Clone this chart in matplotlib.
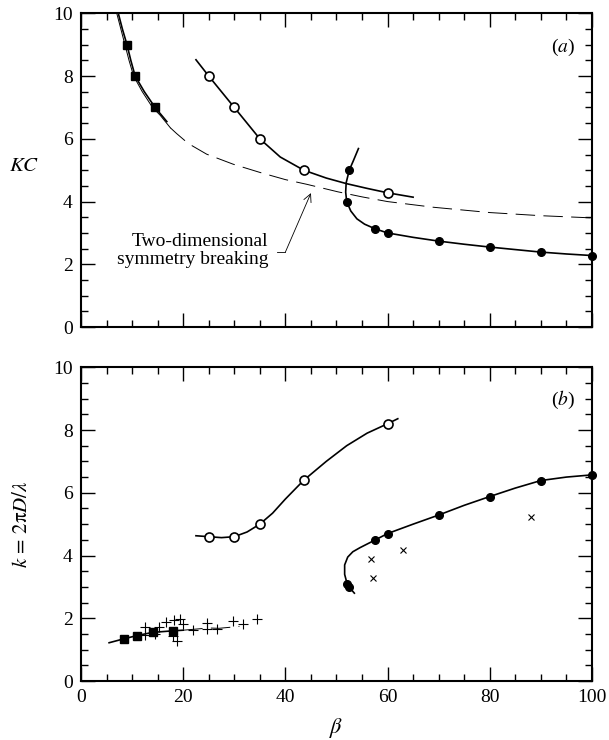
import matplotlib
matplotlib.use('Agg')
import matplotlib.pyplot as plt
from matplotlib.ticker import MultipleLocator

# Data ##################################################################
# Panel (a): KC against beta
# Square markers and the solid curve through them
sq_beta_a = [9.0, 10.6, 14.5]
sq_kc_a = [9.0, 8.0, 7.0]
sq_line_beta_a = [7.3, 8.1, 9.0, 9.75, 10.6, 12.4, 14.5, 16.8]
sq_line_kc_a = [10.0, 9.5, 9.0, 8.5, 8.0, 7.5, 7.0, 6.55]
# Two-dimensional symmetry breaking curve (thin solid part, then dashed)
twod_solid_beta = [7.0, 7.8, 8.6, 9.4, 10.3, 12.0, 14.0, 15.5, 17.5]
twod_solid_kc = [10.0, 9.5, 9.0, 8.5, 8.0, 7.5, 7.0, 6.75, 6.35]
twod_dash_beta = [17.5, 18.7, 21.0, 24.6, 29.8, 35.0, 40.0, 44.2, 50.3,
                  55.0, 60.0, 68.9, 80.0, 90.0, 100.0]
twod_dash_kc = [6.35, 6.17, 5.85, 5.51, 5.19, 4.93, 4.7, 4.55, 4.31,
                4.15, 4.0, 3.82, 3.65, 3.55, 3.48]
# Open circles
oc_beta_a = [25, 30, 35, 43.6, 60]
oc_kc_a = [8.0, 7.0, 6.0, 5.0, 4.28]
oc_line_beta_a = [22.5, 25, 30, 35, 39, 43.6, 48, 52, 56, 60, 65]
oc_line_kc_a = [8.52, 8.0, 7.0, 6.0, 5.42, 5.0, 4.75, 4.57, 4.42, 4.28, 4.14]
# Filled circles
fc_beta_a = [52.5, 52.0, 57.6, 60, 70, 80, 90, 100]
fc_kc_a = [5.0, 4.0, 3.13, 3.0, 2.74, 2.55, 2.39, 2.28]
fc_line_beta_a = [54.3, 53.3, 52.5, 51.9, 51.8, 52.0, 52.8, 54.0, 55.5,
                  57.6, 60, 65, 70, 75, 80, 85, 90, 95, 100]
fc_line_kc_a = [5.69, 5.3, 5.0, 4.6, 4.3, 4.0, 3.7, 3.45, 3.28,
                3.13, 3.0, 2.86, 2.74, 2.64, 2.55, 2.47, 2.39, 2.33, 2.28]

# Panel (b): k = 2 pi D / lambda against beta
sq_beta_b = [8.5, 11.0, 14.0, 18.0]
sq_k_b = [1.35, 1.45, 1.55, 1.58]
sq_line_beta_b = [5.5, 8.5, 11.0, 14.0, 18.0, 20.0]
sq_line_k_b = [1.22, 1.35, 1.45, 1.55, 1.6, 1.62]
twod_dash_beta_b = [20.0, 25.0, 27.0, 31.0]
twod_dash_k_b = [1.62, 1.69, 1.68, 1.74]
plus_beta = [12.5, 12.5, 14.4, 15.3, 16.6, 18.2, 19.4, 19.9, 18.8, 18.0,
             21.9, 24.6, 24.6, 26.6, 29.8, 31.8, 34.5]
plus_k = [1.73, 1.47, 1.5, 1.71, 1.88, 1.95, 1.97, 1.81, 1.27, 1.43,
          1.62, 1.86, 1.67, 1.67, 1.9, 1.82, 1.99]
cross_beta = [56.7, 57.1, 63.1, 88.1]
cross_k = [3.9, 3.29, 4.18, 5.22]
oc_beta_b = [25, 30, 35, 43.6, 60]
oc_k_b = [4.6, 4.6, 5.0, 6.4, 8.2]
oc_line_beta_b = [22.5, 25, 27.5, 30, 32.5, 35, 37.5, 40, 43.6, 48, 52,
                  56, 60, 62]
oc_line_k_b = [4.63, 4.6, 4.57, 4.6, 4.75, 5.0, 5.35, 5.8, 6.4, 7.0, 7.5,
               7.9, 8.2, 8.36]
fc_beta_b = [52.0, 52.4, 57.5, 60, 70, 80, 90, 100]
fc_k_b = [3.1, 3.0, 4.49, 4.7, 5.29, 5.88, 6.39, 6.57]
fc_line_beta_b = [53.5, 52.7, 52.0, 51.6, 51.6, 52.2, 53.2, 54.6, 57.5, 60,
                  65, 70, 75, 80, 85, 90, 95, 100]
fc_line_k_b = [2.8, 2.95, 3.15, 3.4, 3.7, 3.95, 4.12, 4.25, 4.49, 4.7,
               5.0, 5.29, 5.6, 5.88, 6.15, 6.39, 6.5, 6.57]

xticks = [0, 20, 40, 60, 80, 100]
yticks = [0, 2, 4, 6, 8, 10]

# Figure ################################################################
plt.rcParams['font.family'] = ['Liberation Serif', 'DejaVu Serif']
plt.rcParams['mathtext.fontset'] = 'stix'
plt.rcParams['font.size'] = 14
plt.rcParams['lines.scale_dashes'] = False

fig = plt.figure(figsize=(6.09, 7.40), dpi=100)
ax_a = fig.add_axes([0.133, 0.558, 0.839, 0.424])
ax_b = fig.add_axes([0.133, 0.0797, 0.839, 0.424])

lw_curve = 1.2
dash = (0, (14, 6))

for ax in (ax_a, ax_b):
    ax.set_xlim(0, 100)
    ax.set_ylim(0, 10)
    ax.set_xticks(xticks)
    ax.set_yticks(yticks)
    ax.xaxis.set_minor_locator(MultipleLocator(5))
    ax.yaxis.set_minor_locator(MultipleLocator(0.5))
    ax.tick_params(which='both', direction='in', top=True, right=True,
                   width=1.0)
    ax.tick_params(which='major', length=10, pad=6)
    ax.tick_params(which='minor', length=5)
    for sp in ax.spines.values():
        sp.set_linewidth(1.5)

# Panel (a) ##############################################################
ax_a.plot(twod_solid_beta, twod_solid_kc, 'k-', lw=0.7)
ax_a.plot(twod_dash_beta, twod_dash_kc, 'k', lw=0.7, linestyle=dash)
ax_a.plot(sq_line_beta_a, sq_line_kc_a, 'k-', lw=lw_curve)
ax_a.plot(sq_beta_a, sq_kc_a, 'ks', ms=6)
ax_a.plot(oc_line_beta_a, oc_line_kc_a, 'k-', lw=lw_curve)
ax_a.plot(oc_beta_a, oc_kc_a, 'o', mfc='white', mec='k', mew=1.2, ms=6.5)
ax_a.plot(fc_line_beta_a, fc_line_kc_a, 'k-', lw=lw_curve)
ax_a.plot(fc_beta_a, fc_kc_a, 'ko', ms=5.5, clip_on=False)

ax_a.text(36.6, 2.44, 'Two-dimensional\nsymmetry breaking', ha='right',
          va='center', fontsize=14, linespacing=1.05)
ax_a.plot([38.3, 40.0], [2.39, 2.39], 'k-', lw=0.6)
ax_a.annotate('', xy=(45.0, 4.27), xytext=(40.0, 2.39),
              arrowprops=dict(arrowstyle='->', lw=0.6, color='k',
                              shrinkA=0, shrinkB=0,
                              mutation_scale=14))
ax_a.text(0.943, 0.89, r'($\mathit{a}$)', transform=ax_a.transAxes,
          ha='center', va='center', fontsize=14)
ax_a.set_xticklabels([])
ax_a.set_ylabel(r'$KC$', rotation=0, fontsize=15)
ax_a.yaxis.set_label_coords(-0.112, 0.48)

# Panel (b) ##############################################################
ax_b.plot(sq_line_beta_b, sq_line_k_b, 'k-', lw=lw_curve)
ax_b.plot(twod_dash_beta_b, twod_dash_k_b, 'k', lw=0.7, linestyle=dash)
ax_b.plot(sq_beta_b, sq_k_b, 'ks', ms=6)
ax_b.plot(plus_beta, plus_k, 'k+', ms=7, mew=0.8)
ax_b.plot(cross_beta, cross_k, 'kx', ms=5, mew=0.8)
ax_b.plot(oc_line_beta_b, oc_line_k_b, 'k-', lw=lw_curve)
ax_b.plot(oc_beta_b, oc_k_b, 'o', mfc='white', mec='k', mew=1.2, ms=6.5)
ax_b.plot(fc_line_beta_b, fc_line_k_b, 'k-', lw=lw_curve)
ax_b.plot(fc_beta_b, fc_k_b, 'ko', ms=5.5, clip_on=False)

ax_b.text(0.943, 0.895, r'($\mathit{b}$)', transform=ax_b.transAxes,
          ha='center', va='center', fontsize=14)
ax_b.set_xlabel(r'$\beta$', fontsize=16)
ax_b.set_ylabel(r'$k\, =\, 2\mathrm{\pi} D/\lambda$', fontsize=15)
ax_b.yaxis.set_label_coords(-0.095, 0.5)
ax_b.xaxis.set_label_coords(0.5, -0.11)

fig.savefig('out.png', dpi=100)
